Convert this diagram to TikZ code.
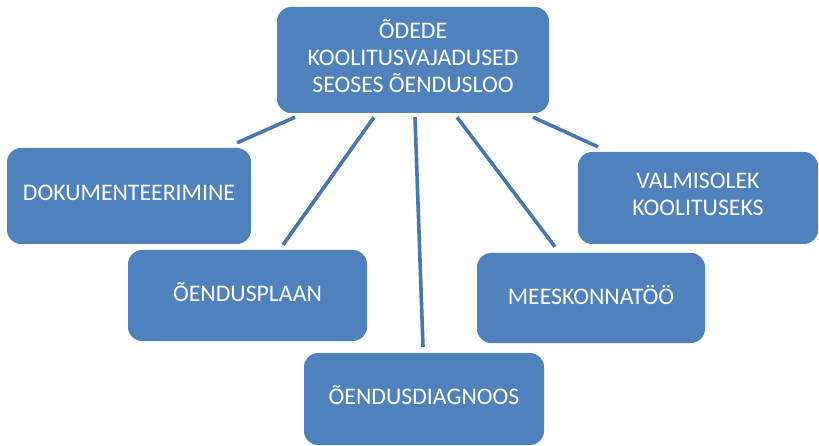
\documentclass[tikz,border=0pt]{standalone}
\usepackage{fontspec}
\setmainfont{Carlito}
\usepackage{xcolor}
\usepackage{tikz}
\usetikzlibrary{positioning}
\definecolor{boxblue}{HTML}{4F81BD}
\definecolor{linkblue}{HTML}{4677AE}

\begin{document}
\begin{tikzpicture}[
  x=1pt, y=-1pt,
  font=\fontsize{23.8}{27}\selectfont,
  topic/.style = {rectangle, rounded corners=14pt, fill=boxblue, draw=none,
    text=white, align=center, inner sep=0pt, text depth=7pt},
  item/.style  = {topic, minimum width=240pt, minimum height=92pt},
  link/.style  = {draw=linkblue, line width=3.6pt},
]
  \useasboundingbox (0,0) rectangle (819,446);
  \node[topic, minimum width=272pt, minimum height=106pt] (top) at (413,60)
    {ÕDEDE\\KOOLITUSVAJADUSED\\SEOSES ÕENDUSLOO};
  \node[item, minimum width=244pt, minimum height=96pt] (dok) at (129,196) {DOKUMENTEERIMINE};
  \node[item, minimum width=239pt, minimum height=91pt] (plaan) at (247.5,295.5) {ÕENDUSPLAAN};
  \node[item] (diag) at (424,399) {ÕENDUSDIAGNOOS};
  \node[item, minimum width=228pt, minimum height=90pt] (meesk) at (591,298) {MEESKONNATÖÖ};
  \node[item] (valm) at (698,198) {VALMISOLEK\\KOOLITUSEKS};

  \draw[link] ([xshift=-118pt,yshift=-4pt]top.south) -- ([xshift=108pt,yshift=5pt]dok.north);
  \draw[link] ([xshift=-39pt,yshift=-4pt]top.south) -- ([xshift=35.5pt,yshift=5pt]plaan.north);
  \draw[link] ([xshift=2pt,yshift=-4pt]top.south) -- ([xshift=-1pt,yshift=6pt]diag.north);
  \draw[link] ([xshift=44pt,yshift=-4pt]top.south) -- ([xshift=-36pt,yshift=6pt]meesk.north);
  \draw[link] ([xshift=120pt,yshift=-4pt]top.south) -- ([xshift=-100pt,yshift=5pt]valm.north);
\end{tikzpicture}
\end{document}
